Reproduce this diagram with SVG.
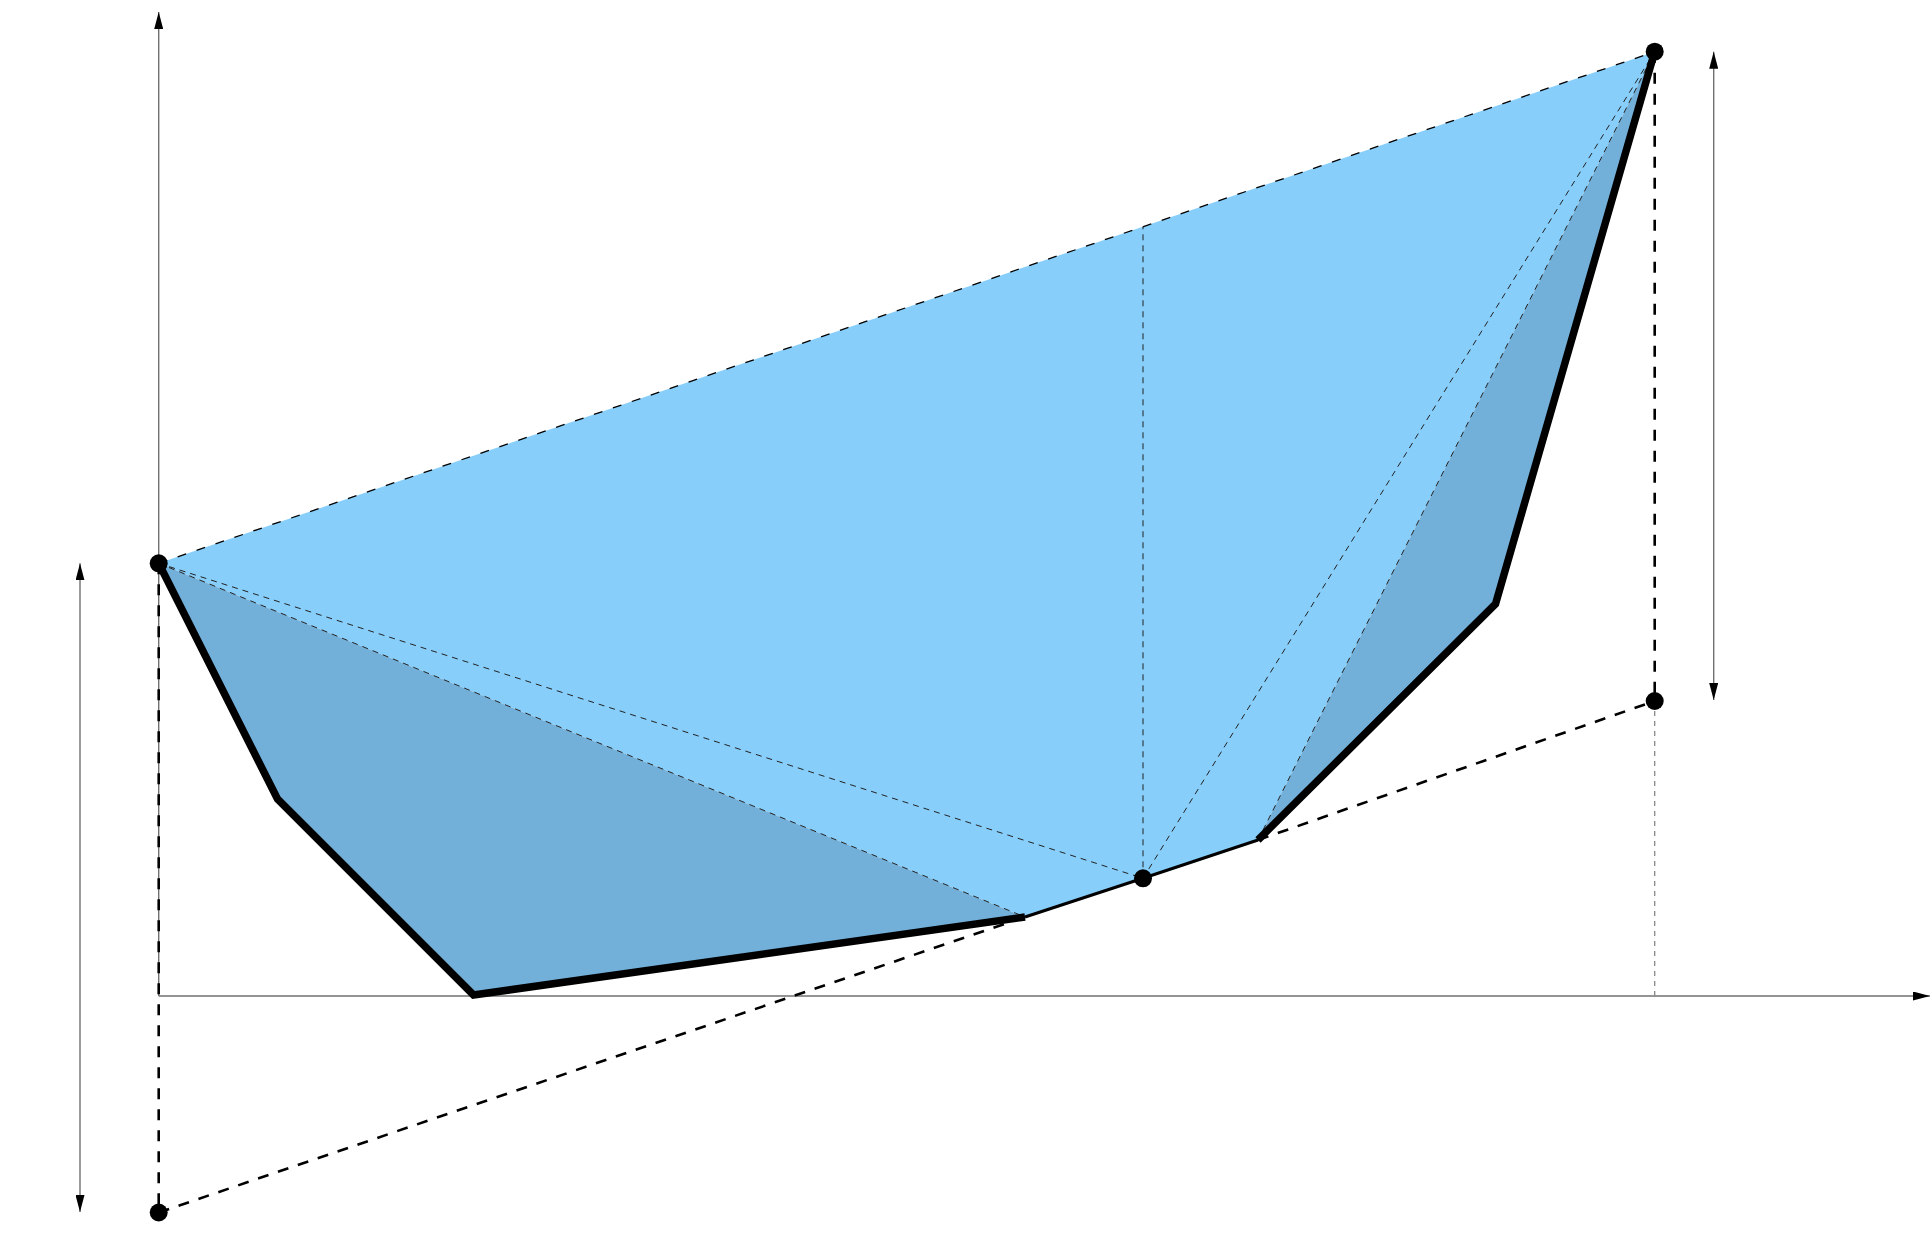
<svg xmlns="http://www.w3.org/2000/svg" width="1932" height="1257" viewBox="0 0 1932 1257">
<style>
.axis{stroke:#707070;stroke-width:1.4;fill:none}
.thick{stroke:#000;stroke-width:7.5;fill:none;stroke-linejoin:miter;stroke-linecap:butt}
.thin{stroke:#000;stroke-width:3;fill:none}
.dashT{stroke:#000;stroke-width:2.6;fill:none;stroke-dasharray:11 10}
.dashM{stroke:#000;stroke-width:1.3;fill:none;stroke-dasharray:9 11}
.dashS{stroke:#222;stroke-width:1;fill:none;stroke-dasharray:6 5}
.dot{stroke:#888;stroke-width:1.3;fill:none;stroke-dasharray:5 5}
.light{fill:#87CEFA}
.dark{fill:#72AFD9}
.pt{fill:#000}
</style>
<defs>
<marker id="ah" viewBox="0 0 17 9" refX="17" refY="4.5" markerWidth="17" markerHeight="9" markerUnits="userSpaceOnUse" orient="auto-start-reverse">
<path d="M0,0 L17,4.5 L0,9 Z" fill="#000"/>
</marker>
</defs>
<rect width="1932" height="1257" fill="#fff"/>
<g id="regions">
<polygon class="light" points="158.7,563.3 1654.7,51.7 1258,840 1143,878.3 1025,917"/>
<polygon class="dark" points="158.7,563.3 277.5,799 473.5,995 1025,917"/>
<polygon class="dark" points="1654.7,51.7 1495.5,604 1258,840"/>
</g>
<g id="axes">
<line class="axis" x1="158.7" y1="996" x2="158.7" y2="12" marker-end="url(#ah)"/>
<line class="axis" x1="158.7" y1="996" x2="1930" y2="996" marker-end="url(#ah)"/>
<line class="axis" x1="80" y1="563.3" x2="80" y2="1212" marker-start="url(#ah)" marker-end="url(#ah)"/>
<line class="axis" x1="1713.7" y1="51.7" x2="1713.7" y2="700" marker-start="url(#ah)" marker-end="url(#ah)"/>
</g>
<g id="connectors">
<line class="dashM" x1="158.7" y1="563.3" x2="1654.7" y2="51.7"/>
<line class="dashS" x1="158.7" y1="563.3" x2="1025" y2="917"/>
<line class="dashS" x1="158.7" y1="563.3" x2="1143" y2="878.3"/>
<line class="dashS" x1="1143" y1="878.3" x2="1654.7" y2="51.7"/>
<line class="dashS" x1="1258" y1="840" x2="1654.7" y2="51.7"/>
<line class="dashS" x1="1143" y1="878.3" x2="1143" y2="227"/>
<line class="dashT" x1="158.7" y1="563.3" x2="158.7" y2="1212.5"/>
<line class="dashT" x1="1654.7" y1="51.7" x2="1654.7" y2="701"/>
<line class="dot" x1="1654.7" y1="701" x2="1654.7" y2="996"/>
<line class="dashT" x1="158.7" y1="1212.5" x2="1025" y2="917"/>
<line class="dashT" x1="1258" y1="840" x2="1654.7" y2="701"/>
<polyline class="thin" points="1025,917 1143,878.3 1258,840"/>
<polyline class="thick" points="158.7,563.3 277.5,799 473.5,995 1025,917"/>
<polyline class="thick" points="1654.7,51.7 1495.5,604 1258,840"/>
</g>
<g id="node-A"><circle class="pt" cx="158.7" cy="563.3" r="9"/></g>
<g id="node-T"><circle class="pt" cx="1654.7" cy="51.7" r="9"/></g>
<g id="node-R"><circle class="pt" cx="1654.7" cy="701" r="9"/></g>
<g id="node-B"><circle class="pt" cx="158.7" cy="1212.5" r="9"/></g>
<g id="node-P"><circle class="pt" cx="1143" cy="878.3" r="9"/></g>
</svg>
